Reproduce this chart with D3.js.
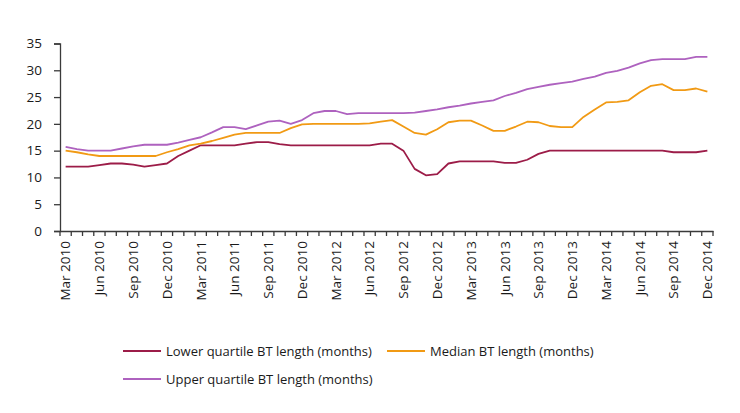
<!DOCTYPE html>
<html>
<head>
<meta charset="utf-8">
<script src="https://cdn.jsdelivr.net/npm/d3@7"></script>
<style>
  body { margin: 0; background: #fff; }
  svg text { font-family: "Open Sans", "Noto Sans", sans-serif; fill: #1a1a1a; }
</style>
</head>
<body>
<div id="chart"></div>
<script>
// Months, Mar 2010 - Dec 2014
var categories = [
  "Mar 2010", "Apr 2010", "May 2010", "Jun 2010", "Jul 2010", "Aug 2010", "Sep 2010", "Oct 2010", "Nov 2010", "Dec 2010",
  "Jan 2011", "Feb 2011", "Mar 2011", "Apr 2011", "May 2011", "Jun 2011", "Jul 2011", "Aug 2011", "Sep 2011", "Oct 2011",
  "Nov 2011", "Dec 2011", "Jan 2012", "Feb 2012", "Mar 2012", "Apr 2012", "May 2012", "Jun 2012", "Jul 2012", "Aug 2012",
  "Sep 2012", "Oct 2012", "Nov 2012", "Dec 2012", "Jan 2013", "Feb 2013", "Mar 2013", "Apr 2013", "May 2013", "Jun 2013",
  "Jul 2013", "Aug 2013", "Sep 2013", "Oct 2013", "Nov 2013", "Dec 2013", "Jan 2014", "Feb 2014", "Mar 2014", "Apr 2014",
  "May 2014", "Jun 2014", "Jul 2014", "Aug 2014", "Sep 2014", "Oct 2014", "Nov 2014", "Dec 2014"
];

// every third month gets a label (the original repeats "Dec 2010")
var tickLabels = [
  "Mar 2010", "Jun 2010", "Sep 2010", "Dec 2010", "Mar 2011", "Jun 2011", "Sep 2011", "Dec 2010",
  "Mar 2012", "Jun 2012", "Sep 2012", "Dec 2012", "Mar 2013", "Jun 2013", "Sep 2013", "Dec 2013",
  "Mar 2014", "Jun 2014", "Sep 2014", "Dec 2014"
];

var lowerQuartile = [
  12, 12, 12, 12.3, 12.6, 12.6, 12.4, 12, 12.3, 12.6,
  14, 15, 16, 16, 16, 16, 16.3, 16.6, 16.6, 16.2,
  16, 16, 16, 16, 16, 16, 16, 16, 16.3, 16.3,
  15, 11.6, 10.4, 10.6, 12.6, 13, 13, 13, 13, 12.7,
  12.7, 13.3, 14.4, 15, 15, 15, 15, 15, 15, 15,
  15, 15, 15, 15, 14.7, 14.7, 14.7, 15
];

var median = [
  15, 14.7, 14.3, 14, 14, 14, 14, 14, 14, 14.7,
  15.3, 16, 16.3, 16.8, 17.4, 18, 18.3, 18.3, 18.3, 18.3,
  19.2, 19.9, 20, 20, 20, 20, 20, 20.1, 20.4, 20.7,
  19.5, 18.3, 18, 19, 20.3, 20.6, 20.6, 19.7, 18.7, 18.7,
  19.5, 20.4, 20.3, 19.6, 19.4, 19.4, 21.3, 22.7, 24, 24.1,
  24.4, 25.9, 27.1, 27.4, 26.3, 26.3, 26.6, 26
];

var upperQuartile = [
  15.7, 15.3, 15, 15, 15, 15.4, 15.8, 16.1, 16.1, 16.1,
  16.5, 17, 17.5, 18.4, 19.4, 19.4, 19, 19.7, 20.4, 20.6,
  20, 20.7, 22, 22.4, 22.4, 21.8, 22, 22, 22, 22,
  22, 22.1, 22.4, 22.7, 23.1, 23.4, 23.8, 24.1, 24.4, 25.2,
  25.8, 26.5, 26.9, 27.3, 27.6, 27.9, 28.4, 28.8, 29.5, 29.9,
  30.5, 31.3, 31.9, 32.1, 32.1, 32.1, 32.5, 32.5
];

var seriesNames = [
  "Lower quartile BT length (months)",
  "Median BT length (months)",
  "Upper quartile BT length (months)"
];
var seriesColors = ["#9c1c48", "#f19a14", "#ae62bf"];
var yTicks = [0, 5, 10, 15, 20, 25, 30, 35];

var width = 740, height = 413;
var plotLeft = 60, plotRight = 713, plotTop = 43.5, plotBottom = 231;

var svg = d3.select("#chart")
  .append("svg")
  .attr("width", width)
  .attr("height", height);

var x = d3.scaleBand()
  .domain(categories)
  .range([plotLeft, plotRight])
  .padding(0);

var y = d3.scaleLinear()
  .domain([0, 35])
  .range([plotBottom, plotTop]);

// Y axis
var yAxis = svg.append("g")
  .attr("transform", "translate(" + plotLeft + ",0)")
  .call(d3.axisLeft(y).tickValues(yTicks).tickSize(6).tickPadding(12));
yAxis.selectAll("text").style("font-size", "13.5px");

// X axis: tick marks on month boundaries, labels every third month
var xAxis = svg.append("g")
  .attr("transform", "translate(0," + plotBottom + ")")
  .call(d3.axisBottom(x).tickValues([]).tickSizeOuter(0));

function edge(i) {
  return i < categories.length ? x(categories[i]) : x(categories[i - 1]) + x.bandwidth();
}

xAxis.selectAll(".boundary")
  .data(d3.range(categories.length + 1))
  .enter().append("line")
  .attr("class", "boundary")
  .attr("x1", edge)
  .attr("x2", edge)
  .attr("y1", 0)
  .attr("y2", 5);

svg.selectAll(".domain, .boundary, .tick line")
  .attr("stroke", "#3a3a3a")
  .attr("stroke-width", 1.3);

xAxis.selectAll(".xlab")
  .data(tickLabels)
  .enter().append("text")
  .attr("class", "xlab")
  .attr("transform", function(d, i) {
    var cx = x(categories[i * 3]) + x.bandwidth() / 2;
    return "translate(" + (cx + 4.8) + ",10) rotate(-90)";
  })
  .attr("text-anchor", "end")
  .style("font-size", "13.5px")
  .text(function(d) { return d; });

// Lines
var allSeries = [lowerQuartile, median, upperQuartile];
var line = d3.line()
  .x(function(d, i) { return x(categories[i]) + x.bandwidth() / 2; })
  .y(function(d) { return y(d); });

svg.selectAll(".series")
  .data(allSeries)
  .enter().append("path")
  .attr("class", "series")
  .attr("fill", "none")
  .attr("stroke", function(d, i) { return seriesColors[i]; })
  .attr("stroke-width", 1.8)
  .attr("stroke-linejoin", "round")
  .attr("d", line);

// Legend
var legendPos = [[123, 351], [387, 351], [123, 379]];
var legend = svg.selectAll(".legend")
  .data(seriesNames)
  .enter().append("g")
  .attr("class", "legend")
  .attr("transform", function(d, i) { return "translate(" + legendPos[i][0] + "," + legendPos[i][1] + ")"; });

legend.append("line")
  .attr("x1", 0).attr("x2", 38)
  .attr("y1", 0).attr("y2", 0)
  .attr("stroke", function(d, i) { return seriesColors[i]; })
  .attr("stroke-width", 1.8);

legend.append("text")
  .attr("x", 43)
  .attr("y", 4.5)
  .style("font-size", "13px")
  .text(function(d) { return d; });
</script>
</body>
</html>
